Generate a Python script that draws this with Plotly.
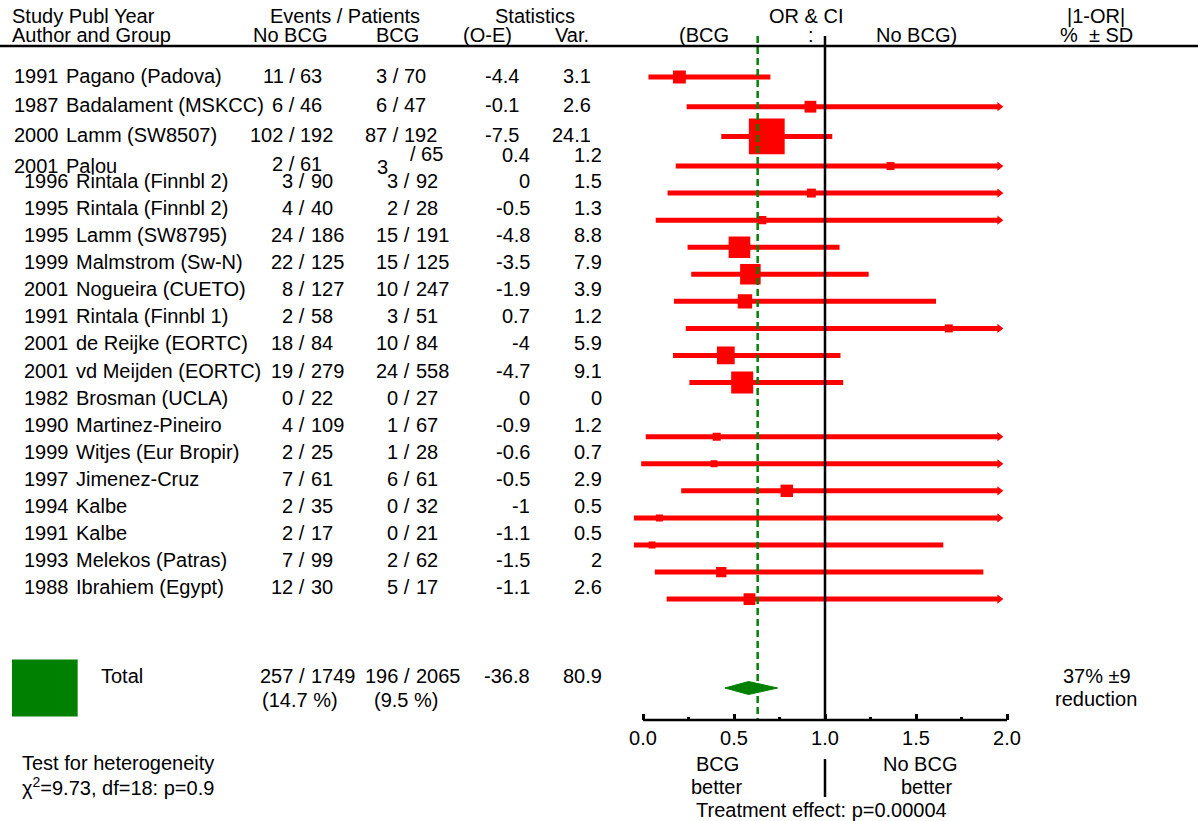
import math
import plotly.graph_objects as go

# ---------------- data ----------------
years = [1991, 1987, 2000, 2001, 1996, 1995, 1995, 1999, 2001, 1991,
         2001, 2001, 1982, 1990, 1999, 1997, 1994, 1991, 1993, 1988]
authors = ["Pagano (Padova)", "Badalament (MSKCC)", "Lamm (SW8507)", "Palou",
           "Rintala (Finnbl 2)", "Rintala (Finnbl 2)", "Lamm (SW8795)", "Malmstrom (Sw-N)",
           "Nogueira (CUETO)", "Rintala (Finnbl 1)", "de Reijke (EORTC)", "vd Meijden (EORTC)",
           "Brosman (UCLA)", "Martinez-Pineiro", "Witjes (Eur Bropir)", "Jimenez-Cruz",
           "Kalbe", "Kalbe", "Melekos (Patras)", "Ibrahiem (Egypt)"]
events_nobcg = [11, 6, 102, 2, 3, 4, 24, 22, 8, 2, 18, 19, 0, 4, 2, 7, 2, 2, 7, 12]
patients_nobcg = [63, 46, 192, 61, 90, 40, 186, 125, 127, 58, 84, 279, 22, 109, 25, 61, 35, 17, 99, 30]
events_bcg = [3, 6, 87, 3, 3, 2, 15, 15, 10, 3, 10, 24, 0, 1, 1, 6, 0, 0, 2, 5]
patients_bcg = [70, 47, 192, 65, 92, 28, 191, 125, 247, 51, 84, 558, 27, 67, 28, 61, 32, 21, 62, 17]
o_minus_e = [-4.4, -0.1, -7.5, 0.4, 0, -0.5, -4.8, -3.5, -1.9, 0.7,
             -4, -4.7, 0, -0.9, -0.6, -0.5, -1, -1.1, -1.5, -1.1]
variance = [3.1, 2.6, 24.1, 1.2, 1.5, 1.3, 8.8, 7.9, 3.9, 1.2,
            5.9, 9.1, 0, 1.2, 0.7, 2.9, 0.5, 0.5, 2, 2.6]
# odds ratio and CI (None = not estimable / beyond the scale -> arrow)
odds_ratio = [0.20, 0.92, 0.68, 1.36, 0.925, 0.655, 0.53, 0.59, 0.56, 1.68,
              0.455, 0.545, None, 0.405, 0.39, 0.79, 0.09, 0.05, 0.43, 0.585]
ci_low = [0.03, 0.24, 0.43, 0.18, 0.135, 0.07, 0.245, 0.265, 0.17, 0.235,
          0.165, 0.255, None, 0.015, -0.01, 0.21, -0.05, -0.05, 0.065, 0.13]
ci_high = [0.70, None, 1.04, None, None, None, 1.08, 1.24, 1.61, None,
           1.085, 1.10, None, None, None, None, None, 1.65, 1.87, None]

total_events_nobcg, total_patients_nobcg = 257, 1749
total_events_bcg, total_patients_bcg = 196, 2065
total_pct_nobcg, total_pct_bcg = "14.7", "9.5"
total_o_e, total_var = -36.8, 80.9
total_or, total_low, total_high, total_or_line = 0.58, 0.45, 0.74, 0.63
reduction_text = "37% ±9"
heterogeneity = "χ<sup>2</sup>=9.73, df=18: p=0.9"
treatment_effect = "Treatment effect: p=0.00004"
tick_vals = [0.0, 0.5, 1.0, 1.5, 2.0]
minor_vals = [0.25, 0.75, 1.25, 1.75]

# ---------------- layout constants ----------------
W, H = 1198, 821
FONT = "Liberation Sans, Arial, sans-serif"
FS = 20
RED = "#ff0000"
GREEN = "#008000"
X0_PX, X2_PX = 643, 1007
PXU = (X2_PX - X0_PX) / 2.0
XR = [-0.1, 2.1]
DOM = [(X0_PX + XR[0] * PXU) / W, (X0_PX + XR[1] * PXU) / W]
AXIS_Y = 720
TOP_Y = 36
ARROW_SIZE = 8
ARROW_X = 2.0 - (ARROW_SIZE * 0.577 + 3) / PXU
NULL_OR = 1.0
SLASH_W = 5.6  # width of "/" and of a space at FS


def line_y(i):
    return 77 + 29.7 * i if i < 4 else 166 + 27.07 * (i - 3)


def text_y(i):
    return line_y(i) - 1.5 if i < 3 else line_y(i) - 12


def sq_size(v):
    return max(7.0, 7.3 * math.sqrt(v))


anns = []


def ann(text, x, y, anchor="left", size=FS):
    anns.append(dict(text=text, x=x / W, y=y, xref="paper", yref="y",
                     xanchor=anchor, yanchor="middle", showarrow=False,
                     borderpad=0, borderwidth=0,
                     font=dict(family=FONT, size=size, color="black")))


def counts(n, N, slash_x, y):
    ann(f"{n} /", slash_x + SLASH_W / 2, y, "right")
    ann(f"{N}", slash_x + SLASH_W * 1.5, y, "left")


fig = go.Figure()

# CI lines
lx, ly = [], []
ax, ay = [], []
sx, sy, ss = [], [], []
for i in range(len(years)):
    if odds_ratio[i] is None:
        continue
    y = line_y(i)
    hi = ci_high[i] if ci_high[i] is not None else ARROW_X
    lx += [ci_low[i], hi, None]
    ly += [y, y, None]
    if ci_high[i] is None:
        ax.append(ARROW_X)
        ay.append(y)
    sx.append(odds_ratio[i])
    sy.append(y)
    ss.append(sq_size(variance[i]))

fig.add_trace(go.Scatter(x=lx, y=ly, mode="lines", line=dict(color=RED, width=5),
                         hoverinfo="skip"))
fig.add_trace(go.Scatter(x=ax, y=ay, mode="markers",
                         marker=dict(symbol="triangle-right", size=ARROW_SIZE, color=RED, opacity=1),
                         hoverinfo="skip"))
fig.add_trace(go.Scatter(x=sx, y=sy, mode="markers",
                         marker=dict(symbol="square", size=ss, color=RED, opacity=1,
                                     line=dict(width=0)),
                         hoverinfo="skip"))

# null line and overall line
fig.add_trace(go.Scatter(x=[NULL_OR, NULL_OR], y=[TOP_Y, AXIS_Y], mode="lines",
                         line=dict(color="black", width=2.5), hoverinfo="skip"))
fig.add_trace(go.Scatter(x=[NULL_OR, NULL_OR], y=[759, 797], mode="lines",
                         line=dict(color="black", width=2.5), hoverinfo="skip"))
fig.add_trace(go.Scatter(x=[total_or_line, total_or_line], y=[TOP_Y, AXIS_Y], mode="lines",
                         line=dict(color=GREEN, width=2.5, dash="7px,4px"), hoverinfo="skip"))

# total diamond
dy = 688
fig.add_trace(go.Scatter(x=[total_low, total_or, total_high, total_or, total_low],
                         y=[dy, dy - 6.5, dy, dy + 6.5, dy], mode="lines", fill="toself",
                         fillcolor=GREEN, line=dict(color=GREEN, width=1), hoverinfo="skip"))

# ---------------- texts ----------------
ann("Study Publ Year", 12, 16)
ann("Author and Group", 12, 35)
ann("Events / Patients", 345, 16, "center")
ann("No BCG", 290, 35, "center")
ann("BCG", 397, 35, "center")
ann("Statistics", 535, 16, "center")
ann("(O-E)", 487, 35, "center")
ann("Var.", 572, 35, "center")
ann("OR &amp; CI", 806, 16, "center")
ann("(BCG", 679, 35)
ann(":", 811, 35, "center")
ann("No BCG)", 876, 35)
ann("|1-OR|", 1096, 16, "center")
ann("%\u00a0 ± SD", 1096, 35, "center")

for i in range(len(years)):
    y = text_y(i)
    if i < 3:
        ann(str(years[i]), 14, y)
        ann(authors[i], 66, y)
        counts(events_nobcg[i], patients_nobcg[i], 292, y)
        counts(events_bcg[i], patients_bcg[i], 396, y)
        ann(f"{o_minus_e[i]:g}", 519, y, "right")
        ann(f"{variance[i]:g}", 591, y, "right")
    elif i == 3:
        ann(str(years[i]), 14, 166)
        ann(authors[i], 66, 166)
        counts(events_nobcg[i], patients_nobcg[i], 292, 164)
        ann(f"{events_bcg[i]}", 377, 167)
        ann(f"/ {patients_bcg[i]}", 410, 154)
        ann(f"{o_minus_e[i]:g}", 530, 155, "right")
        ann(f"{variance[i]:g}", 602, 155, "right")
    else:
        ann(str(years[i]), 24, y)
        ann(authors[i], 76, y)
        counts(events_nobcg[i], patients_nobcg[i], 302.5, y)
        counts(events_bcg[i], patients_bcg[i], 407.5, y)
        ann(f"{o_minus_e[i]:g}", 530, y, "right")
        ann(f"{variance[i]:g}", 602, y, "right")

# total row
ann("Total", 101, 676)
counts(total_events_nobcg, total_patients_nobcg, 302.5, 676)
counts(total_events_bcg, total_patients_bcg, 407.5, 676)
ann(f"{total_o_e:g}", 530, 676, "right")
ann(f"{total_var:g}", 602, 676, "right")
ann(f"({total_pct_nobcg} %)", 300, 700, "center")
ann(f"({total_pct_bcg} %)", 406, 700, "center")
ann(reduction_text, 1097, 676, "center")
ann("reduction", 1096, 699, "center")

ann("Test for heterogeneity", 22, 763)
ann(heterogeneity, 22, 786)

ann("BCG", 717, 764, "center")
ann("better", 716, 787, "center")
ann("No BCG", 920, 764, "center")
ann("better", 926, 787, "center")
ann(treatment_effect, 821, 810, "center")

# total square (size from total variance)
s = sq_size(total_var)
shapes = [
    dict(type="rect", xref="paper", yref="y", x0=12 / W, x1=(12 + s) / W,
         y0=688 - s * 0.435, y1=688 + s * 0.435, fillcolor=GREEN, line=dict(width=0)),
    dict(type="line", xref="paper", yref="y", x0=0, x1=1, y0=46, y1=46,
         line=dict(color="black", width=2.5)),
    dict(type="line", xref="x", yref="y", x0=tick_vals[0], x1=tick_vals[-1], y0=AXIS_Y, y1=AXIS_Y,
         line=dict(color="black", width=2.5)),
]

fig.update_layout(
    width=W, height=H, margin=dict(l=0, r=0, t=0, b=0),
    paper_bgcolor="white", plot_bgcolor="white", showlegend=False,
    annotations=anns, shapes=shapes,
    xaxis=dict(domain=DOM, range=XR, anchor="free", position=1 - AXIS_Y / H,
               showgrid=False, zeroline=False, showline=False,
               tickmode="array", tickvals=tick_vals, ticktext=[f"{v:.1f}" for v in tick_vals],
               ticks="inside", ticklen=6, tickwidth=2.5, tickcolor="black",
               ticklabelstandoff=4,
               minor=dict(tickmode="array", tickvals=minor_vals, ticks="inside", ticklen=3,
                          tickwidth=2.5, tickcolor="black", showgrid=False),
               tickfont=dict(family=FONT, size=FS, color="black")),
    yaxis=dict(domain=[0, 1], range=[H, 0], visible=False, showgrid=False, zeroline=False),
)

fig.write_html("out.html", config={"displayModeBar": False},
               post_script="document.body.style.margin='0';")
